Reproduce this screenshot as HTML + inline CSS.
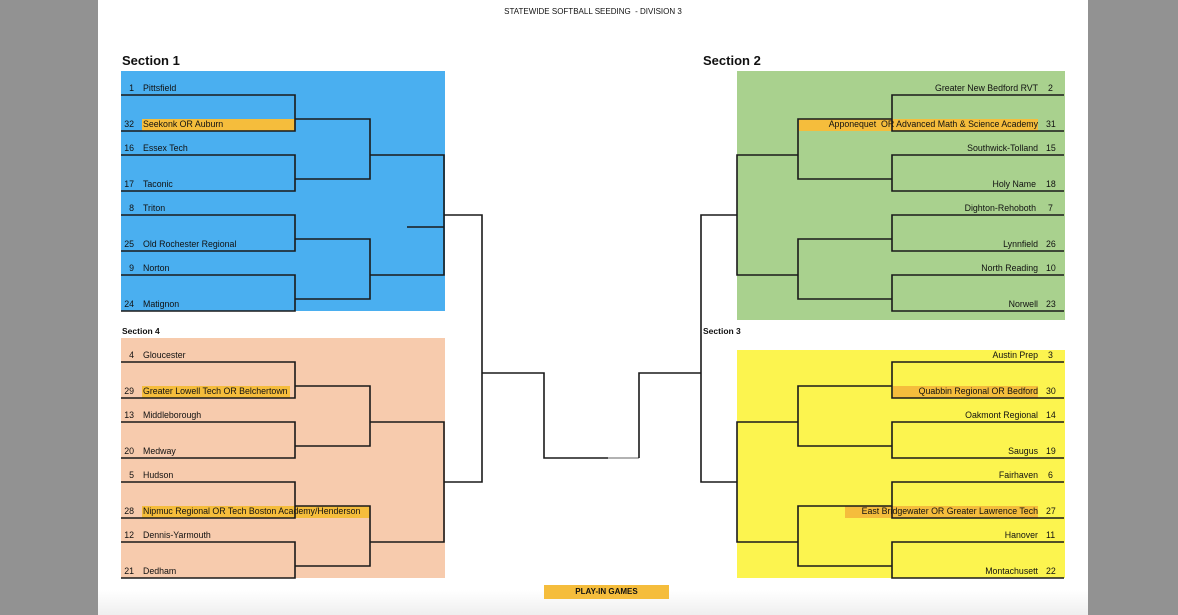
<!DOCTYPE html>
<html><head><meta charset="utf-8">
<style>
*{margin:0;padding:0;box-sizing:border-box}
body{width:1178px;height:615px;background:#929292;position:relative;overflow:hidden;font-family:"Liberation Sans",sans-serif;color:#111}
#page{position:absolute;left:98px;top:0;width:990px;height:615px;background:linear-gradient(#fff 0,#fff 590px,#efefef 615px)}
.box{position:absolute}
.t{position:absolute;font-size:8.8px;line-height:12px;height:12px;white-space:nowrap}
.n{text-align:right;width:16px}
.r{text-align:right}
.hl{position:absolute;background:#f5bd3c;height:12px}
svg{position:absolute;left:0;top:0}
.h1{position:absolute;font-weight:bold;font-size:13px}
.h2{position:absolute;font-weight:bold;font-size:8.5px}
</style></head><body>
<div id="page"></div>
<div class="t" style="left:0;width:1178px;text-align:center;top:6px;font-size:8px;padding-left:8px">STATEWIDE SOFTBALL SEEDING&nbsp; - DIVISION 3</div>
<div class="h1" style="left:122px;top:53px">Section 1</div>
<div class="h1" style="left:703px;top:53px">Section 2</div>
<div class="h2" style="left:122px;top:326px">Section 4</div>
<div class="h2" style="left:703px;top:326px">Section 3</div>

<div class="box" style="left:121px;top:71px;width:324px;height:240px;background:#4aaff0"></div>
<div class="box" style="left:121px;top:338px;width:324px;height:240px;background:#f7cbad"></div>
<div class="box" style="left:737px;top:71px;width:328px;height:249px;background:#a9d18e"></div>
<div class="box" style="left:737px;top:350px;width:328px;height:228px;background:#fcf44f"></div>

<div class="hl" style="left:142px;top:119px;width:153px"></div>
<div class="hl" style="left:142px;top:386px;width:148px"></div>
<div class="hl" style="left:142px;top:506px;width:228px"></div>
<div class="hl" style="left:799px;top:119px;width:239px"></div>
<div class="hl" style="left:893px;top:386px;width:145px"></div>
<div class="hl" style="left:845px;top:506px;width:193px"></div>
<div class="hl" style="left:544px;top:585px;width:125px;height:14px"></div>
<div class="t" style="left:544px;top:586px;width:125px;text-align:center;font-weight:bold;font-size:8px">PLAY-IN GAMES</div>

<!-- Section 1 -->
<div class="t n" style="left:118px;top:82px">1</div><div class="t" style="left:143px;top:82px">Pittsfield</div>
<div class="t n" style="left:118px;top:118px">32</div><div class="t" style="left:143px;top:118px">Seekonk OR Auburn</div>
<div class="t n" style="left:118px;top:142px">16</div><div class="t" style="left:143px;top:142px">Essex Tech</div>
<div class="t n" style="left:118px;top:178px">17</div><div class="t" style="left:143px;top:178px">Taconic</div>
<div class="t n" style="left:118px;top:202px">8</div><div class="t" style="left:143px;top:202px">Triton</div>
<div class="t n" style="left:118px;top:238px">25</div><div class="t" style="left:143px;top:238px">Old Rochester Regional</div>
<div class="t n" style="left:118px;top:262px">9</div><div class="t" style="left:143px;top:262px">Norton</div>
<div class="t n" style="left:118px;top:298px">24</div><div class="t" style="left:143px;top:298px">Matignon</div>
<!-- Section 4 -->
<div class="t n" style="left:118px;top:349px">4</div><div class="t" style="left:143px;top:349px">Gloucester</div>
<div class="t n" style="left:118px;top:385px">29</div><div class="t" style="left:143px;top:385px">Greater Lowell Tech OR Belchertown</div>
<div class="t n" style="left:118px;top:409px">13</div><div class="t" style="left:143px;top:409px">Middleborough</div>
<div class="t n" style="left:118px;top:445px">20</div><div class="t" style="left:143px;top:445px">Medway</div>
<div class="t n" style="left:118px;top:469px">5</div><div class="t" style="left:143px;top:469px">Hudson</div>
<div class="t n" style="left:118px;top:505px">28</div><div class="t" style="left:143px;top:505px">Nipmuc Regional OR Tech Boston Academy/Henderson</div>
<div class="t n" style="left:118px;top:529px">12</div><div class="t" style="left:143px;top:529px">Dennis-Yarmouth</div>
<div class="t n" style="left:118px;top:565px">21</div><div class="t" style="left:143px;top:565px">Dedham</div>
<!-- Section 2 -->
<div class="t r" style="left:738px;width:300px;top:82px">Greater New Bedford RVT</div><div class="t" style="left:1048px;top:82px">2</div>
<div class="t r" style="left:738px;width:300px;top:118px">Apponequet&nbsp; OR Advanced Math &amp; Science Academy</div><div class="t" style="left:1046px;top:118px">31</div>
<div class="t r" style="left:738px;width:300px;top:142px">Southwick-Tolland</div><div class="t" style="left:1046px;top:142px">15</div>
<div class="t r" style="left:738px;width:298px;top:178px">Holy Name</div><div class="t" style="left:1046px;top:178px">18</div>
<div class="t r" style="left:738px;width:298px;top:202px">Dighton-Rehoboth</div><div class="t" style="left:1048px;top:202px">7</div>
<div class="t r" style="left:738px;width:300px;top:238px">Lynnfield</div><div class="t" style="left:1046px;top:238px">26</div>
<div class="t r" style="left:738px;width:300px;top:262px">North Reading</div><div class="t" style="left:1046px;top:262px">10</div>
<div class="t r" style="left:738px;width:300px;top:298px">Norwell</div><div class="t" style="left:1046px;top:298px">23</div>
<!-- Section 3 -->
<div class="t r" style="left:738px;width:300px;top:349px">Austin Prep</div><div class="t" style="left:1048px;top:349px">3</div>
<div class="t r" style="left:738px;width:300px;top:385px">Quabbin Regional OR Bedford</div><div class="t" style="left:1046px;top:385px">30</div>
<div class="t r" style="left:738px;width:300px;top:409px">Oakmont Regional</div><div class="t" style="left:1046px;top:409px">14</div>
<div class="t r" style="left:738px;width:300px;top:445px">Saugus</div><div class="t" style="left:1046px;top:445px">19</div>
<div class="t r" style="left:738px;width:300px;top:469px">Fairhaven</div><div class="t" style="left:1048px;top:469px">6</div>
<div class="t r" style="left:738px;width:300px;top:505px">East Bridgewater OR Greater Lawrence Tech</div><div class="t" style="left:1046px;top:505px">27</div>
<div class="t r" style="left:738px;width:300px;top:529px">Hanover</div><div class="t" style="left:1046px;top:529px">11</div>
<div class="t r" style="left:738px;width:300px;top:565px">Montachusett</div><div class="t" style="left:1046px;top:565px">22</div>

<svg width="1178" height="615" viewBox="0 0 1178 615">
<defs>
<g id="L" stroke="#1a1a1a" stroke-width="1.6" fill="none">
<path d="M121 95H295V131H121M121 155H295V191H121M121 215H295V251H121M121 275H295V311H121"/>
<path d="M295 119H370V179H295M295 239H370V299H295"/>
<path d="M370 155H444V275H370"/>
</g>
<g id="R" stroke="#1a1a1a" stroke-width="1.6" fill="none">
<path d="M1064 95H892V131H1064M1064 155H892V191H1064M1064 215H892V251H1064M1064 275H892V311H1064"/>
<path d="M892 119H798V179H892M892 239H798V299H892"/>
<path d="M798 155H737V275H798"/>
</g>
</defs>
<use href="#L"/>
<use href="#L" transform="translate(0,267)"/>
<use href="#R"/>
<use href="#R" transform="translate(0,267)"/>
<g stroke="#1a1a1a" stroke-width="1.6" fill="none">
<path d="M407 227H444"/>
<path d="M444 215H482V482H444"/>
<path d="M482 373H544V458H608"/>
<path d="M608 458H639" stroke="#999"/>
<path d="M639 458V373H701"/>
<path d="M737 215H701V482H737"/>
</g>
</svg>
</body></html>
